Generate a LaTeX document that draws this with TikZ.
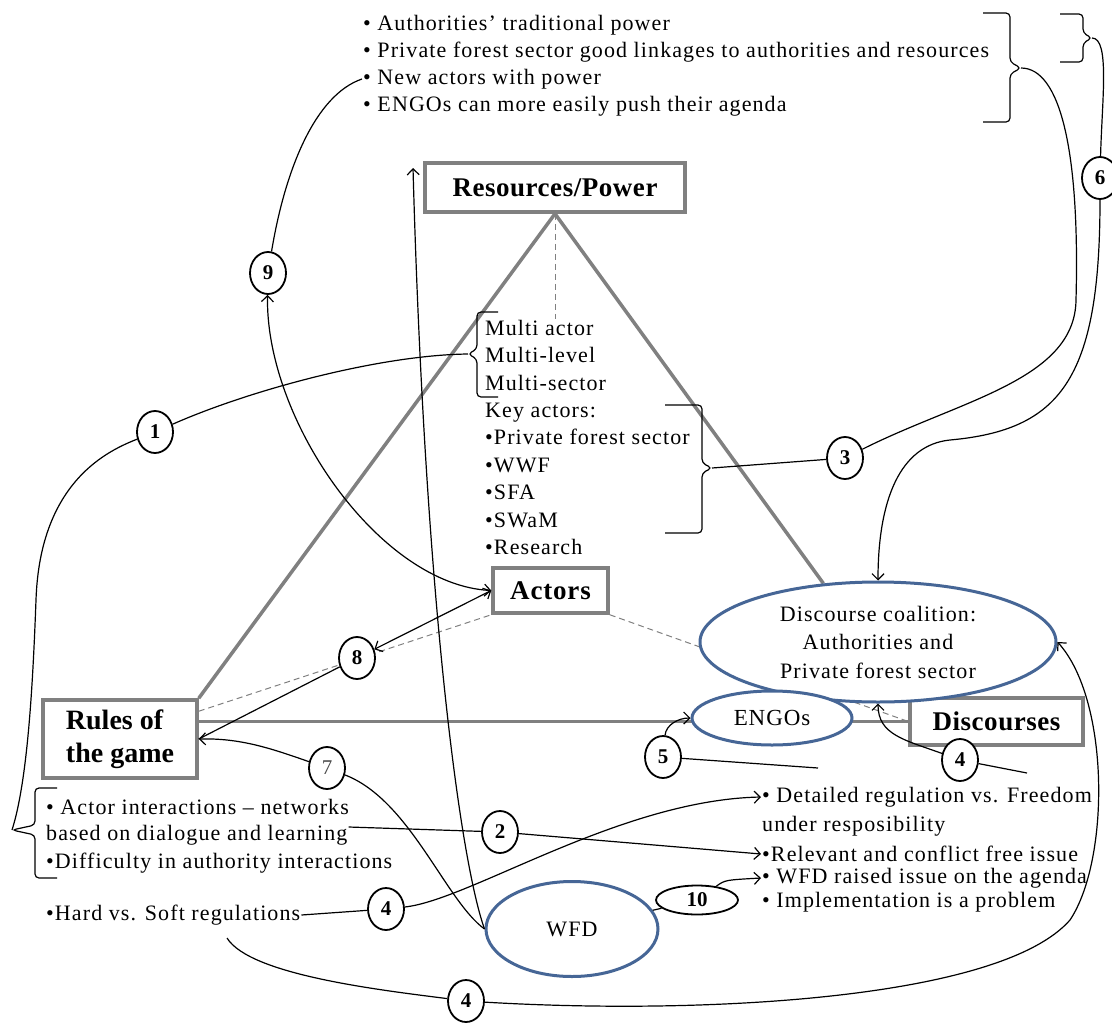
\documentclass[tikz,border=0pt]{standalone}
\usepackage{fontspec}
\setmainfont{Liberation Serif}
\usepackage{tikz}
\usetikzlibrary{shapes.geometric,arrows.meta,backgrounds}
\definecolor{ellblue}{RGB}{70,102,150}
\definecolor{framegray}{RGB}{128,128,128}

\begin{document}
\begin{tikzpicture}[
    x=1pt, y=-1pt,
    txt/.style={anchor=west, inner sep=1pt, font=\fontsize{22}{27.5}\selectfont\addfontfeatures{LetterSpace=5}},
    box/.style={draw=framegray, line width=3.5pt, fill=white, align=left, font=\bfseries\fontsize{27}{33}\selectfont},
    blob/.style={draw=ellblue, ellipse, line width=3pt, fill=white, inner sep=0pt, align=center, font=\fontsize{22}{28.5}\selectfont\addfontfeatures{LetterSpace=5}},
    num/.style={draw, ellipse, line width=1.8pt, minimum width=36pt, minimum height=42pt, inner sep=0pt, fill=white, font=\bfseries\fontsize{21}{21}\selectfont},
    link/.style={line width=1.2pt},
    arrow/.style={link, -{Straight Barb[length=6pt,width=12pt]}},
    biarrow/.style={link, {Straight Barb[length=6pt,width=12pt]}-{Straight Barb[length=6pt,width=12pt]}},
    tri/.style={draw=framegray, line width=3.5pt},
    guide/.style={draw=framegray, line width=1pt, dash pattern=on 6pt off 4pt},
    brace/.style={line width=1.2pt, rounded corners=4pt}
]
\useasboundingbox (0,0) rectangle (1112,1023);

% the three corners and the centre
\node[box, minimum width=260pt, minimum height=49pt] (res) at (555,187.5) {\addfontfeatures{LetterSpace=2}Resources/Power};
\node[box, minimum width=115pt, minimum height=45pt] (actors) at (550.5,590.5) {\addfontfeatures{LetterSpace=3}Actors};
\node[box, minimum width=173pt, minimum height=47pt] (discbox) at (996.5,721.5) {\addfontfeatures{LetterSpace=2}Discourses};
\node[box, minimum width=154pt, minimum height=78pt, font=\bfseries\fontsize{28}{33}\selectfont] (rules) at (120,739) {Rules of\\the game};

% coalitions
\node[blob, minimum width=356pt, minimum height=120pt] (coal) at (878,642) {Discourse coalition:\\Authorities and\\Private forest sector};
\node[blob, minimum width=160pt, minimum height=54pt, font=\fontsize{23}{23}\selectfont\addfontfeatures{LetterSpace=4}] (engos) at (772,718) {ENGOs};
\node[blob, minimum width=172pt, minimum height=95pt] (wfd) at (572,929) {WFD};

% text lists
\foreach \txt [count=\i] in {• Authorities’ traditional power, • Private forest sector good linkages to authorities and resources, • New actors with power, • ENGOs can more easily push their agenda}
  \node[txt] (pow\i) at (362,-2+27*\i) {\txt};
\node[txt, align=left] (multi) at (484,355) {Multi actor\\Multi-level\\Multi-sector};
\node[txt, align=left] (keyact) at (484,479) {Key actors:\\•Private forest sector\\•WWF\\•SFA\\•SWaM\\•Research};
\node[txt] (int1) at (45,807) {• Actor interactions – networks};
\node[txt] (int2) at (45,835) {based on dialogue and learning};
\node[txt] (int3) at (45,863) {•Difficulty in authority interactions};
\node[txt] (hardsoft) at (45,915) {•Hard vs. Soft regulations};
\node[txt] (detail) at (761,797) {• Detailed regulation vs. Freedom};
\node[txt] (under) at (761,826) {under resposibility};
\node[txt] (relevant) at (761,854) {•Relevant and conflict free issue};
\node[txt] (raised) at (761,878) {• WFD raised issue on the agenda};
\node[txt] (implem) at (761,902) {• Implementation is a problem};

% numbered links
\node[num] (n1) at (155,432) {1};
\node[num] (n2) at (500,832) {2};
\node[num] (n3) at (845,458) {3};
\node[num] (n4a) at (386,909) {4};
\node[num] (n4b) at (466,1001) {4};
\node[num] (n4c) at (960,760) {4};
\node[num] (n5) at (663,757) {5};
\node[num] (n6) at (1100,178) {6};
\node[num, font=\fontsize{21}{21}\selectfont, text=black!70] (n7) at (327,768) {7};
\node[num] (n8) at (357,658) {8};
\node[num] (n9) at (268,273) {9};
\node[num, minimum width=82pt, minimum height=29pt] (n10) at (697,900) {10};

% brackets
\draw[brace] (983,13) -- (1010,13) -- (1010,62) -- (1021,68) -- (1010,74) -- (1010,122) -- (983,122);
\draw[brace] (1060,14) -- (1083,14) -- (1083,33) -- (1092,38) -- (1083,43) -- (1083,62) -- (1060,62);
\draw[brace] (498,312) -- (477,312) -- (477,349) -- (468,354) -- (477,359) -- (477,397) -- (498,397);
\draw[brace] (665,405) -- (702,405) -- (702,463) -- (712,468) -- (702,473) -- (702,533) -- (665,533);
\draw[brace] (57,788) -- (35,788) -- (35,825) -- (12,830) -- (35,835) -- (35,878) -- (57,878);
\coordinate (bigtip) at (1021,68);
\coordinate (smalltip) at (1092,38);
\coordinate (mtip) at (468,354);
\coordinate (keytip) at (712,468);
\coordinate (ltip) at (12,830);
\coordinate (resup) at (413,168);
\coordinate (hsbot) at (227,938);
\coordinate (engfree) at (818,768);
\coordinate (dfree) at (1027,773);

% triangle and dashed guides
\begin{scope}[on background layer]
\draw[tri] (res.south) -- (rules.north east);
\draw[tri] (res.south) -- (coal.133);
\draw[tri] (rules.east |- discbox.west) -- (discbox.west);
\draw[guide] (res.south) -- (res.south |- multi.north);
\draw[guide] ([yshift=-13pt]rules.north east) -- (actors.south west);
\draw[guide] (actors.south east) -- (discbox.west);
\end{scope}

% connectors
\draw[link] (ltip) .. controls (28,780) and (33,680) .. (36,600) .. controls (40,480) and (110,450) .. (n1) .. controls (250,390) and (380,355) .. (mtip);
\draw[biarrow] (pow3.west) .. controls (315,95) and (285,170) .. (n9) .. controls (265,420) and (380,585) .. (actors.west);
\draw[biarrow] (rules.east) -- (n8) -- (actors.west);
\draw[arrow] (wfd.west) .. controls (445,900) and (410,800) .. (n7) .. controls (270,748) and (240,738) .. (rules.east);
\draw[arrow] (wfd.west) .. controls (460,860) and (425,600) .. (resup);
\draw[arrow] ([yshift=8pt]int2.east) -- (n2) -- (relevant.west);
\draw[arrow] (hardsoft.east) -- (n4a) .. controls (470,900) and (620,800) .. (detail.west);
\draw[arrow] (hsbot) .. controls (250,975) and (380,990) .. (n4b) .. controls (700,1015) and (1000,1000) .. (1070,920) .. controls (1110,860) and (1110,700) .. (coal.east);
\draw[arrow] (dfree) -- (n4c) .. controls (905,740) and (878,735) .. (coal.south);
\draw[arrow] (engfree) -- (n5) .. controls (666,725) and (678,718) .. (engos.west);
\draw[link] (wfd) -- (n10);
\draw[arrow] (n10) .. controls (725,880) .. (raised.west);
\draw[link] (bigtip) .. controls (1060,68) and (1080,150) .. (1076,300) .. controls (1075,380) and (960,400) .. (n3) -- (keytip);
\draw[arrow] (smalltip) .. controls (1110,38) and (1102,100) .. (n6) .. controls (1100,380) and (1060,430) .. (950,440) .. controls (900,445) and (878,500) .. (coal.north);

\end{tikzpicture}
\end{document}
